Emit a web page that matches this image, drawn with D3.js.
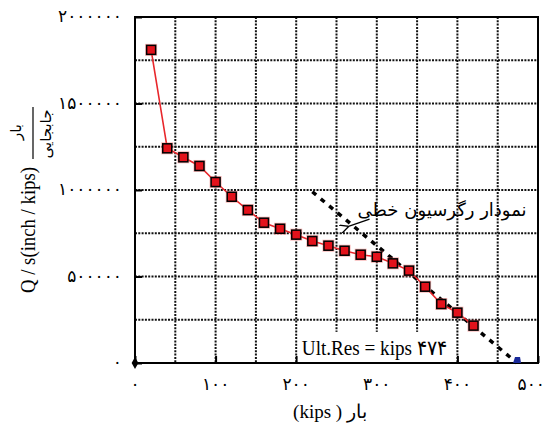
<!DOCTYPE html>
<html>
<head>
<meta charset="utf-8">
<script src="https://cdn.jsdelivr.net/npm/d3@7"></script>
<style>
  body { margin: 0; background: #fff; }
  svg { display: block; }
  .serif { font-family: "Liberation Serif", "Times New Roman", Times, "DejaVu Serif", serif; }
  .fa { font-family: "DejaVu Sans", sans-serif; }
</style>
</head>
<body>
<div id="chart"></div>
<script>
// load steps (kips) and measured Q/s values
const loads = [20, 40, 60, 80, 100, 120, 140, 160, 180, 200, 220, 240, 260, 280, 300, 320, 340, 360, 380, 400, 420];
const stiffness = [1810000, 1241000, 1189000, 1139000, 1046000, 961000, 884000, 811000, 776000, 742000,
                   705000, 678000, 649000, 626000, 614000, 576000, 534000, 441000, 341000, 291000, 216000];

// linear regression line (kips, Q/s)
const regLoads = [220, 474];
const regValues = [990000, 0];
const ultimate = 474;

const xTicks = [0, 100, 200, 300, 400, 500];
const yTicks = [0, 500000, 1000000, 1500000, 2000000];
const xGrid = d3.range(50, 500, 50);
const yGrid = d3.range(250000, 2000000, 250000);

const width = 548, height = 427;

// persian digits
const fa = n => String(n).replace(/\d/g, d => '۰۱۲۳۴۵۶۷۸۹'[d]);

const svg = d3.select('#chart')
    .append('svg')
    .attr('width', width)
    .attr('height', height);

const x = d3.scaleLinear().domain([0, 500]).range([135, 538]);
const y = d3.scaleLinear().domain([0, 2000000]).range([363, 17]);

// grid lines
const grid = svg.append('g')
    .attr('stroke', '#111')
    .attr('stroke-width', 2)
    .attr('stroke-dasharray', '2,1.3');

grid.selectAll('.gx')
    .data(xGrid)
    .enter()
    .append('line')
    .attr('x1', d => x(d)).attr('x2', d => x(d))
    .attr('y1', y(2000000)).attr('y2', y(0));

grid.selectAll('.gy')
    .data(yGrid)
    .enter()
    .append('line')
    .attr('x1', x(0)).attr('x2', x(500))
    .attr('y1', d => y(d)).attr('y2', d => y(d));

// inner ticks
svg.append('g')
    .attr('transform', `translate(${x(0)},0)`)
    .call(d3.axisRight(y).tickValues(yTicks).tickSize(7).tickFormat(''))
    .call(g => g.select('.domain').remove())
    .selectAll('line').attr('stroke-width', 2);

svg.append('g')
    .attr('transform', `translate(0,${y(0)})`)
    .call(d3.axisTop(x).tickValues(xTicks).tickSize(7).tickFormat(''))
    .call(g => g.select('.domain').remove())
    .selectAll('line').attr('stroke-width', 2);

// result label box (covers grid)
const ultX = x(ultimate);
svg.append('rect')
    .attr('x', x(202))
    .attr('y', y(180000))
    .attr('width', x(396) - x(202))
    .attr('height', y(0) - y(180000) - 1)
    .attr('fill', '#fff');

svg.append('text')
    .attr('class', 'serif')
    .attr('x', x(207))
    .attr('y', y(46000))
    .attr('textLength', 145)
    .attr('lengthAdjust', 'spacingAndGlyphs')
    .style('font-size', '21px')
    .text('Ult.Res = kips ' + fa(ultimate));

// frame
svg.append('rect')
    .attr('x', x(0)).attr('y', y(2000000))
    .attr('width', x(500) - x(0))
    .attr('height', y(0) - y(2000000))
    .attr('fill', 'none')
    .attr('stroke', '#000')
    .attr('stroke-width', 2);

// regression line
const regData = regLoads.map((d, i) => [d, regValues[i]]);
svg.append('path')
    .datum(regData)
    .attr('d', d3.line().x(d => x(d[0])).y(d => y(d[1])))
    .attr('fill', 'none')
    .attr('stroke', '#000')
    .attr('stroke-width', 3.5)
    .attr('stroke-dasharray', '5,6');

// measured series
const pts = loads.map((d, i) => ({ load: d, value: stiffness[i] }));

svg.append('path')
    .datum(pts)
    .attr('d', d3.line().x(d => x(d.load)).y(d => y(d.value)))
    .attr('fill', 'none')
    .attr('stroke', '#e8262b')
    .attr('stroke-width', 1.6);

const nodes = svg.selectAll('.pt')
    .data(pts)
    .enter()
    .append('g')
    .attr('transform', d => `translate(${x(d.load)},${y(d.value)})`);

nodes.append('rect')
    .attr('x', -6).attr('y', -6)
    .attr('width', 12).attr('height', 12)
    .attr('fill', 'rgba(240,90,90,0.45)');

nodes.append('rect')
    .attr('x', -4.5).attr('y', -4.5)
    .attr('width', 9).attr('height', 9)
    .attr('fill', '#e3121b')
    .attr('stroke', '#000')
    .attr('stroke-width', 1.5);

// ultimate point
svg.append('path')
    .attr('transform', `translate(${ultX},${y(0) - 2})`)
    .attr('d', 'M-4,2 L-2,-4 L3,-4 L4,2 Z')
    .attr('fill', '#1a2a9a');

// origin marker
svg.append('path')
    .attr('transform', `translate(${x(0)},${y(0)})`)
    .attr('d', d3.symbol(d3.symbolDiamond, 40)())
    .attr('fill', '#000');

// annotation
svg.append('defs').append('marker')
    .attr('id', 'arr')
    .attr('viewBox', '0 0 10 10')
    .attr('refX', 1).attr('refY', 5)
    .attr('markerWidth', 7).attr('markerHeight', 7)
    .attr('orient', 'auto-start-reverse')
    .append('path')
    .attr('d', 'M10,0 L0,5 L10,10')
    .attr('fill', 'none')
    .attr('stroke', '#000')
    .attr('stroke-width', 1.5);

svg.append('line')
    .attr('x1', x(291)).attr('y1', y(832000))
    .attr('x2', x(264)).attr('y2', y(788000))
    .attr('stroke', '#000')
    .attr('stroke-width', 1.3)
    .attr('marker-end', 'url(#arr)');

svg.append('text')
    .attr('class', 'fa')
    .attr('x', x(381))
    .attr('y', y(852000))
    .attr('text-anchor', 'middle')
    .style('font-size', '18px')
    .text('نمودار رگرسیون خطی');

// tick labels
svg.append('g')
    .selectAll('text')
    .data(xTicks)
    .enter()
    .append('text')
    .attr('class', 'fa')
    .attr('x', d => d === 500 ? 545 : x(d))
    .attr('y', 390)
    .attr('text-anchor', d => d === 500 ? 'end' : 'middle')
    .style('font-size', '17px')
    .text(d => fa(d));

svg.append('g')
    .selectAll('text')
    .data(yTicks)
    .enter()
    .append('text')
    .attr('class', 'fa')
    .attr('x', 122)
    .attr('y', d => y(d) + 5)
    .attr('text-anchor', 'end')
    .style('font-size', '17px')
    .text(d => fa(d));

// x title
svg.append('text')
    .attr('class', 'serif')
    .attr('x', 330)
    .attr('y', 418)
    .attr('text-anchor', 'middle')
    .style('font-size', '19px')
    .text('(kips ) بار');

// y title with fraction
const yt = svg.append('g')
    .attr('transform', 'translate(35,293) rotate(-90)');

yt.append('text')
    .attr('class', 'serif')
    .attr('x', 0).attr('y', 0)
    .attr('textLength', 126)
    .attr('lengthAdjust', 'spacingAndGlyphs')
    .style('font-size', '20px')
    .text('Q / s(inch / kips)');

yt.append('line')
    .attr('x1', 134).attr('x2', 186)
    .attr('y1', -2).attr('y2', -2)
    .attr('stroke', '#000')
    .attr('stroke-width', 1.2);

yt.append('text')
    .attr('class', 'fa')
    .attr('x', 161).attr('y', -14)
    .attr('text-anchor', 'middle')
    .style('font-size', '15px')
    .text('بار');

yt.append('text')
    .attr('class', 'fa')
    .attr('x', 159).attr('y', 16)
    .attr('text-anchor', 'middle')
    .style('font-size', '15px')
    .text('جابجایی');
</script>
</body>
</html>
